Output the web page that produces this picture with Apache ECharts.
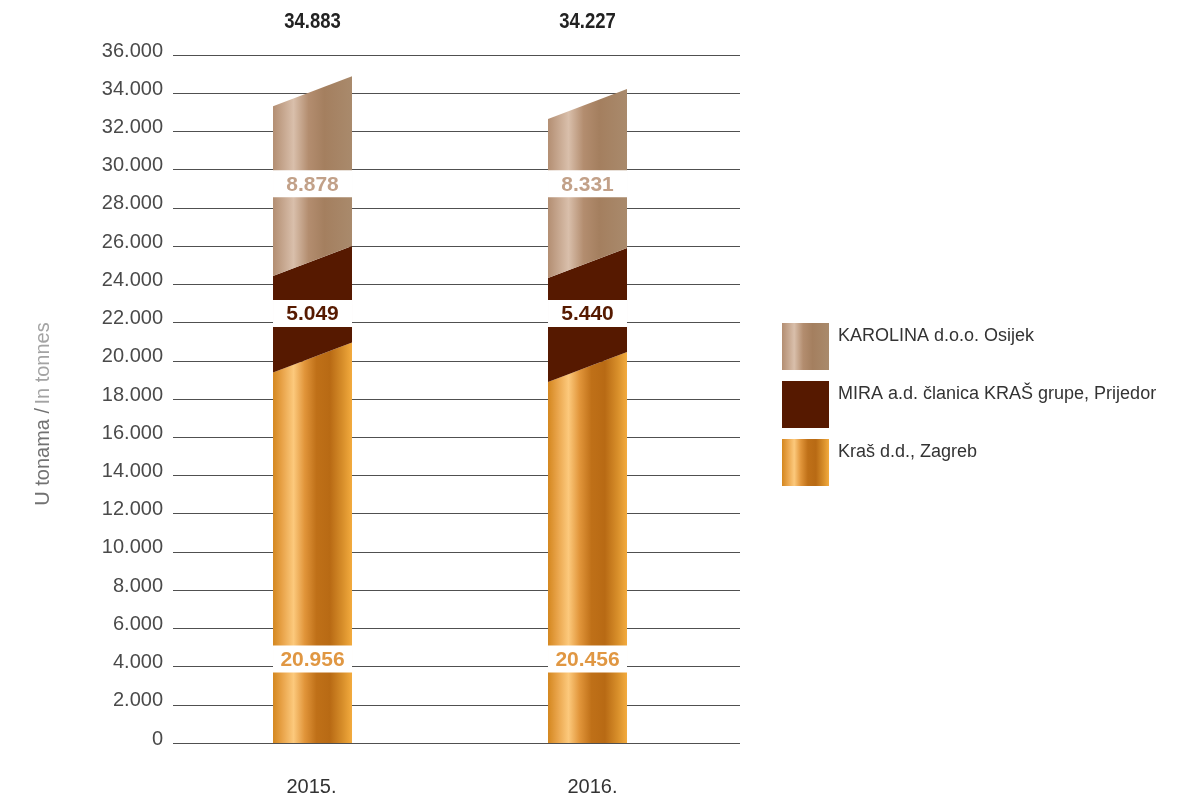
<!DOCTYPE html>
<html>
<head>
<meta charset="utf-8">
<script src="https://cdn.jsdelivr.net/npm/echarts@6/dist/echarts.min.js"></script>
<style>
  html, body { margin: 0; padding: 0; background: #fff; }
  #chart { width: 1187px; height: 797px; }
</style>
</head>
<body>
<div id="chart"></div>
<script>
// Production by company, tonnes
const years = ['2015.', '2016.'];
const krasZagreb = [20956, 20456];
const miraPrijedor = [5049, 5440];
const karolinaOsijek = [8878, 8331];

const seriesNames = ['Kraš d.d., Zagreb', 'MIRA a.d. članica KRAŠ grupe, Prijedor', 'KAROLINA d.o.o. Osijek'];

const yMax = 36000;
const yStep = 2000;

// drawing constants
const BAR_W = 79;      // bar width in px
const SLANT = 30;      // drop of the left end of each segment top, px
const BAND_H = 27;     // white label band height, px
const FONT = '"Liberation Sans", Arial, Helvetica, sans-serif';

function fmt(v) {
  return String(Math.round(v)).replace(/\B(?=(\d{3})+(?!\d))/g, '.');
}

const grad = echarts.graphic.LinearGradient;
// bandLevel: height on the value scale where the white value band sits
const styles = [
  {
    fill: new grad(0, 0, 1, 0, [
      { offset: 0, color: '#d4871f' },
      { offset: 0.12, color: '#e9a44a' },
      { offset: 0.26, color: '#fcc97c' },
      { offset: 0.40, color: '#e1953a' },
      { offset: 0.55, color: '#bf7018' },
      { offset: 0.72, color: '#b86a14' },
      { offset: 0.88, color: '#d78e2a' },
      { offset: 1, color: '#f3ab3e' }
    ]),
    label: '#e09743',
    bandLevel: 4395
  },
  {
    fill: '#561900',
    label: '#561a00',
    bandLevel: 22470
  },
  {
    fill: new grad(0, 0, 1, 0, [
      { offset: 0, color: '#b38e72' },
      { offset: 0.26, color: '#d9bfab' },
      { offset: 0.45, color: '#b38d6f' },
      { offset: 0.65, color: '#a47f5f' },
      { offset: 1, color: '#a98a6c' }
    ]),
    label: '#c2a189',
    bandLevel: 29265
  }
];

const layers = [krasZagreb, miraPrijedor, karolinaOsijek];

function buildData(layerIdx) {
  return years.map((y, i) => {
    let lo = 0;
    for (let k = 0; k < layerIdx; k++) lo += layers[k][i];
    const hi = lo + layers[layerIdx][i];
    return [i, lo, hi];
  });
}

function makeRender(layerIdx) {
  const st = styles[layerIdx];
  const isTop = layerIdx === layers.length - 1;
  const isBottom = layerIdx === 0;
  return function (params, api) {
    const i = api.value(0);
    const lo = api.value(1);
    const hi = api.value(2);
    const base = api.coord([i, 0]);
    const pLo = api.coord([i, lo]);
    const pHi = api.coord([i, hi]);
    const cx = base[0];
    const left = cx - BAR_W / 2;
    const right = cx + BAR_W / 2;
    const botR = pLo[1];
    const botL = isBottom ? pLo[1] : pLo[1] + SLANT;
    const topR = pHi[1];
    const topL = pHi[1] + SLANT;

    const children = [{
      type: 'polygon',
      shape: { points: [[left, botL], [right, botR], [right, topR], [left, topL]] },
      style: { fill: st.fill }
    }];

    // white band carrying the segment value
    const bandY = api.coord([i, st.bandLevel])[1];
    children.push({
      type: 'rect',
      z2: 10,
      shape: { x: left, y: bandY - BAND_H / 2, width: BAR_W, height: BAND_H },
      style: { fill: '#ffffff' }
    });
    children.push({
      type: 'text',
      z2: 11,
      x: cx, y: bandY + 1,
      style: {
        text: fmt(hi - lo),
        fill: st.label,
        font: 'bold 21px ' + FONT,
        align: 'center',
        verticalAlign: 'middle'
      }
    });

    if (isBottom) {
      children.push({
        type: 'text',
        x: cx + (i === 1 ? 5 : -1), y: base[1] + 44,
        style: {
          text: years[i],
          fill: '#333333',
          font: '20px ' + FONT,
          align: 'center',
          verticalAlign: 'middle'
        }
      });
    }
    if (isTop) {
      const topAxis = api.coord([i, yMax])[1];
      children.push({
        type: 'text',
        x: cx, y: topAxis - 33,
        scaleX: 0.84,
        style: {
          text: fmt(hi),
          fill: '#222222',
          font: 'bold 22px ' + FONT,
          align: 'center',
          verticalAlign: 'middle'
        }
      });
    }
    return { type: 'group', children: children };
  };
}

const chart = echarts.init(document.getElementById('chart'), null, { renderer: 'canvas' });

const series = layers.map((arr, idx) => ({
  name: seriesNames[idx],
  type: 'custom',
  renderItem: makeRender(idx),
  itemStyle: { color: styles[idx].fill },
  encode: { x: 0, y: [1, 2] },
  data: buildData(idx),
  clip: false,
  animation: false
}));

chart.setOption({
  backgroundColor: '#ffffff',
  animation: false,
  grid: { left: 173, right: 447, top: 55, bottom: 54 },
  xAxis: {
    type: 'value',
    min: -0.5073,
    max: 1.5545,
    show: false,
    splitLine: { show: false }
  },
  yAxis: {
    type: 'value',
    min: 0,
    max: yMax,
    interval: yStep,
    axisLine: { show: false },
    axisTick: { show: false },
    axisLabel: {
      margin: 10,
      fontSize: 20,
      fontFamily: FONT,
      color: '#4a4a4a',
      verticalAlign: 'bottom',
      lineHeight: 8,
      formatter: v => fmt(v)
    },
    splitLine: { lineStyle: { color: '#505050', width: 1.2 } }
  },
  legend: {
    orient: 'vertical',
    left: 782,
    top: 323,
    padding: 0,
    itemWidth: 47,
    itemHeight: 47,
    itemGap: 11,
    icon: 'rect',
    selectedMode: false,
    data: [seriesNames[2], seriesNames[1], seriesNames[0]],
    formatter: name => '{t|' + name + '}\n{s| }',
    textStyle: {
      fontSize: 18,
      fontFamily: FONT,
      color: '#333333',
      padding: [0, 0, 0, 4],
      rich: {
        t: { fontSize: 18, fontFamily: FONT, color: '#333333', lineHeight: 20 },
        s: { fontSize: 18, lineHeight: 20 }
      }
    }
  },
  graphic: [{
    type: 'text',
    x: 43,
    y: 414,
    rotation: Math.PI / 2,
    style: {
      text: '{a|U tonama /} {b|In tonnes}',
      align: 'center',
      verticalAlign: 'middle',
      rich: {
        a: { fontSize: 20, fontFamily: FONT, fontWeight: 'normal', fill: '#727272', color: '#727272' },
        b: { fontSize: 20, fontFamily: FONT, fontWeight: 'normal', fill: '#a3a3a3', color: '#a3a3a3' }
      }
    }
  }],
  series: series
});
</script>
</body>
</html>
